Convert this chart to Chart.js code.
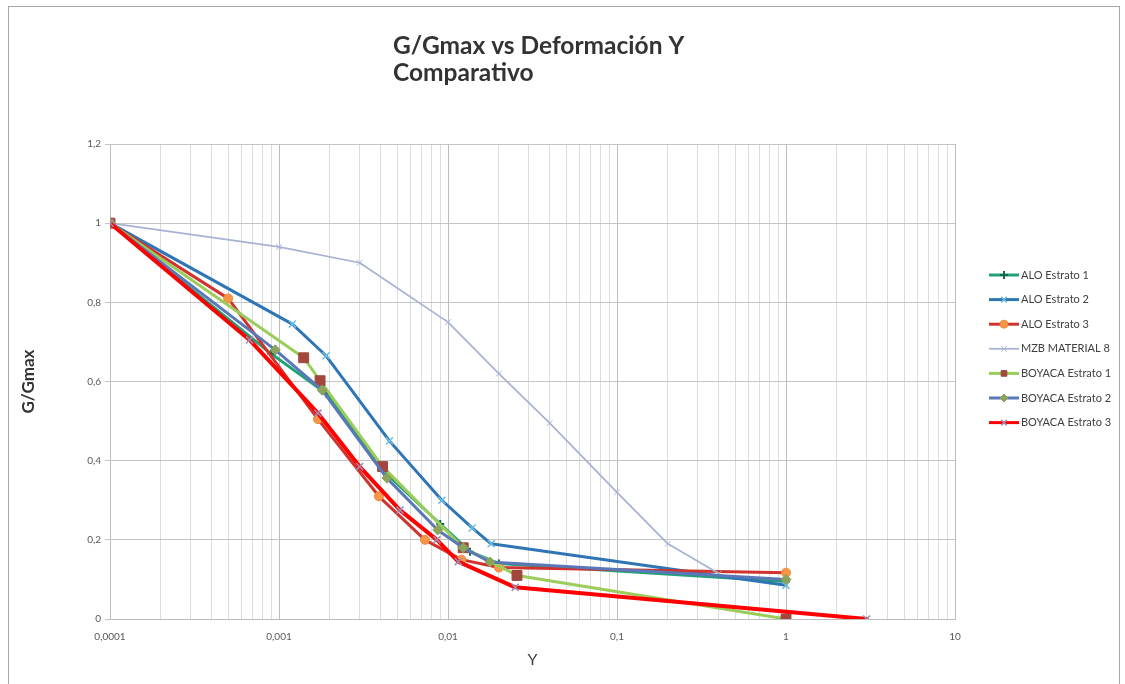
<!DOCTYPE html>
<html>
<head>
<meta charset="utf-8">
<script src="https://cdn.jsdelivr.net/npm/chart.js@4.4.1/dist/chart.umd.min.js"></script>
<style>
  html, body { margin: 0; padding: 0; background: #fff; }
  #wrap { width: 1125px; height: 684px; position: relative; }
</style>
</head>
<body>
<div id="wrap"><canvas id="chart" width="1125" height="684"></canvas></div>
<script>
// títulos
const titleLines = ['G/Gmax vs Deformación Υ', 'Comparativo'];
const xTitle = 'Υ';
const yTitle = 'G/Gmax';

// ticks
const xMajorValues = [0.0001, 0.001, 0.01, 0.1, 1, 10];
const xMajorLabels = ['0,0001', '0,001', '0,01', '0,1', '1', '10'];
const yTickValues = [0, 0.2, 0.4, 0.6, 0.8, 1, 1.2];
const yTickLabels = ['0', '0,2', '0,4', '0,6', '0,8', '1', '1,2'];

// series (deformación, G/Gmax)
const aloE1X = [0.0001, 0.0009, 0.0019, 0.0045, 0.009, 0.0135, 0.02, 1];
const aloE1Y = [1, 0.67, 0.57, 0.36, 0.24, 0.17, 0.14, 0.095];

const aloE2X = [0.0001, 0.0012, 0.0019, 0.0045, 0.0092, 0.0139, 0.018, 1];
const aloE2Y = [1, 0.745, 0.665, 0.45, 0.30, 0.23, 0.19, 0.085];

const aloE3X = [0.0001, 0.0005, 0.0017, 0.0039, 0.0073, 0.012, 0.02, 1];
const aloE3Y = [1, 0.81, 0.505, 0.31, 0.20, 0.15, 0.13, 0.117];

const mzbX = [0.0001, 0.001, 0.003, 0.01, 0.02, 0.04, 0.1, 0.2, 0.4];
const mzbY = [1, 0.94, 0.90, 0.75, 0.62, 0.495, 0.32, 0.19, 0.115];

const boyE1X = [0.0001, 0.0014, 0.00175, 0.0041, 0.0123, 0.0256, 1];
const boyE1Y = [1, 0.66, 0.602, 0.385, 0.18, 0.11, 0];

const boyE2X = [0.0001, 0.00095, 0.0018, 0.00435, 0.0087, 0.0123, 0.0177, 1];
const boyE2Y = [1, 0.68, 0.578, 0.356, 0.225, 0.18, 0.144, 0.10];

const boyE3X = [0.0001, 0.00067, 0.0017, 0.003, 0.0052, 0.0086, 0.0115, 0.025, 3];
const boyE3Y = [1, 0.705, 0.52, 0.385, 0.275, 0.2, 0.145, 0.08, 0];

function pts(xs, ys) {
  return xs.map((x, i) => ({ x, y: ys[i] }));
}

// 1..9 por década para las líneas de la rejilla
const xTickValues = [];
for (let e = -4; e < 1; e++) {
  for (let m = 1; m < 10; m++) xTickValues.push(m * Math.pow(10, e));
}
xTickValues.push(10);

function isMajor(v) {
  return xMajorValues.findIndex(m => Math.abs(v - m) / m < 1e-6);
}

const font = 'Lato, "Open Sans", sans-serif';

const datasets = [
  { label: 'ALO Estrato 1', data: pts(aloE1X, aloE1Y), borderColor: '#22a077', borderWidth: 3,
    pointStyle: 'cross', pointRadius: 4, pointBorderWidth: 2, pointBorderColor: '#13694c', pointBackgroundColor: '#13694c' },
  { label: 'ALO Estrato 2', data: pts(aloE2X, aloE2Y), borderColor: '#2e75b6', borderWidth: 3,
    pointStyle: 'crossRot', pointRadius: 5, pointBorderWidth: 1.5, pointBorderColor: '#6cbde0', pointBackgroundColor: '#6cbde0' },
  { label: 'ALO Estrato 3', data: pts(aloE3X, aloE3Y), borderColor: '#d2322d', borderWidth: 3,
    pointStyle: 'circle', pointRadius: 4.5, pointBorderWidth: 1, pointBorderColor: '#f08a3c', pointBackgroundColor: '#f79646' },
  { label: 'MZB MATERIAL 8', data: pts(mzbX, mzbY), borderColor: '#a7b2d4', borderWidth: 1.75,
    pointStyle: 'crossRot', pointRadius: 4, pointBorderWidth: 1, pointBorderColor: '#a7b2d4', pointBackgroundColor: '#a7b2d4' },
  { label: 'BOYACA Estrato 1', data: pts(boyE1X, boyE1Y), borderColor: '#9acd5a', borderWidth: 3,
    pointStyle: 'rect', pointRadius: 7, pointBorderWidth: 1, pointBorderColor: '#9a4a40', pointBackgroundColor: '#a5463d' },
  { label: 'BOYACA Estrato 2', data: pts(boyE2X, boyE2Y), borderColor: '#5a78b8', borderWidth: 3,
    pointStyle: 'rectRot', pointRadius: 5, pointBorderWidth: 1, pointBorderColor: '#8aa35a', pointBackgroundColor: '#8ca35a' },
  { label: 'BOYACA Estrato 3', data: pts(boyE3X, boyE3Y), borderColor: '#ff0000', borderWidth: 4,
    pointStyle: 'crossRot', pointRadius: 5, pointBorderWidth: 1.5, pointBorderColor: '#9b8fb5', pointBackgroundColor: '#9b8fb5' }
];
// como en Excel: la última serie queda arriba
datasets.forEach((d, i) => { d.order = datasets.length - i; d.fill = false; });

const frameAndText = {
  id: 'frameAndText',
  beforeDraw(chart) {
    const ctx = chart.ctx;
    ctx.save();
    ctx.fillStyle = '#fff';
    ctx.fillRect(0, 0, chart.width, chart.height);
    ctx.strokeStyle = '#a6a6a6';
    ctx.lineWidth = 1;
    ctx.strokeRect(8.5, 6.5, 1111, 700);
    ctx.restore();
  },
  afterDraw(chart) {
    const ctx = chart.ctx;
    ctx.save();
    // título
    ctx.fillStyle = '#333333';
    ctx.font = 'bold 24.5px ' + font;
    ctx.textAlign = 'left';
    ctx.textBaseline = 'alphabetic';
    ctx.fillText(titleLines[0], 393, 54);
    ctx.fillText(titleLines[1], 393, 81);

    // leyenda
    ctx.font = '11px ' + font;
    ctx.textBaseline = 'middle';
    chart.data.datasets.forEach((d, i) => {
      const y = 275 + i * 24.6;
      ctx.strokeStyle = d.borderColor;
      ctx.lineWidth = Math.min(d.borderWidth, 3);
      ctx.beginPath();
      ctx.moveTo(989, y);
      ctx.lineTo(1019, y);
      ctx.stroke();
      ctx.fillStyle = d.pointBackgroundColor;
      ctx.strokeStyle = d.pointBorderColor;
      ctx.lineWidth = d.pointBorderWidth;
      Chart.helpers.drawPoint(ctx, {
        pointStyle: d.pointStyle, rotation: 0,
        radius: Math.min(d.pointRadius, 4), borderWidth: d.pointBorderWidth
      }, 1004, y);
      ctx.fillStyle = '#404040';
      ctx.fillText(d.label, 1021, y);
    });
    ctx.restore();
  }
};

new Chart(document.getElementById('chart').getContext('2d'), {
  type: 'line',
  data: { datasets },
  plugins: [frameAndText],
  options: {
    responsive: false,
    animation: false,
    devicePixelRatio: 1,
    layout: { padding: { left: 10, right: 170, top: 144, bottom: 5 } },
    plugins: {
      legend: { display: false },
      title: { display: false },
      tooltip: { enabled: false }
    },
    elements: { line: { tension: 0, borderJoinStyle: 'round', borderCapStyle: 'round' } },
    scales: {
      x: {
        type: 'logarithmic',
        min: 0.0001,
        max: 10,
        afterBuildTicks: s => {
          s.ticks = xTickValues.map(v => ({ value: v, major: isMajor(v) >= 0 }));
        },
        afterFit: s => { s.height = 60; },
        grid: {
          color: c => (c.tick && c.tick.major) ? '#bcbcbc' : '#dcdcdc',
          drawTicks: false
        },
        border: { color: '#bcbcbc' },
        ticks: {
          autoSkip: false,
          maxRotation: 0,
          padding: 12,
          color: '#595959',
          font: { family: font, size: 10 },
          callback: v => {
            const k = isMajor(v);
            return k >= 0 ? xMajorLabels[k] : '';
          }
        },
        title: {
          display: true, text: xTitle, color: '#404040',
          font: { family: font, size: 16 },
          padding: { top: 0, bottom: 10 }
        }
      },
      y: {
        min: 0,
        max: 1.2,
        afterBuildTicks: s => {
          s.ticks = yTickValues.map(v => ({ value: v }));
        },
        afterFit: s => { s.width = 100; },
        grid: { color: '#c4c4c4', tickLength: 5 },
        border: { color: '#bcbcbc' },
        ticks: {
          padding: 4,
          color: '#595959',
          font: { family: font, size: 10 },
          callback: (v, i) => yTickLabels[i]
        },
        title: {
          display: true, text: yTitle, color: '#333333',
          font: { family: font, size: 17, weight: 'bold' },
          padding: { top: 8, bottom: 0 }
        }
      }
    }
  }
});
</script>
</body>
</html>
